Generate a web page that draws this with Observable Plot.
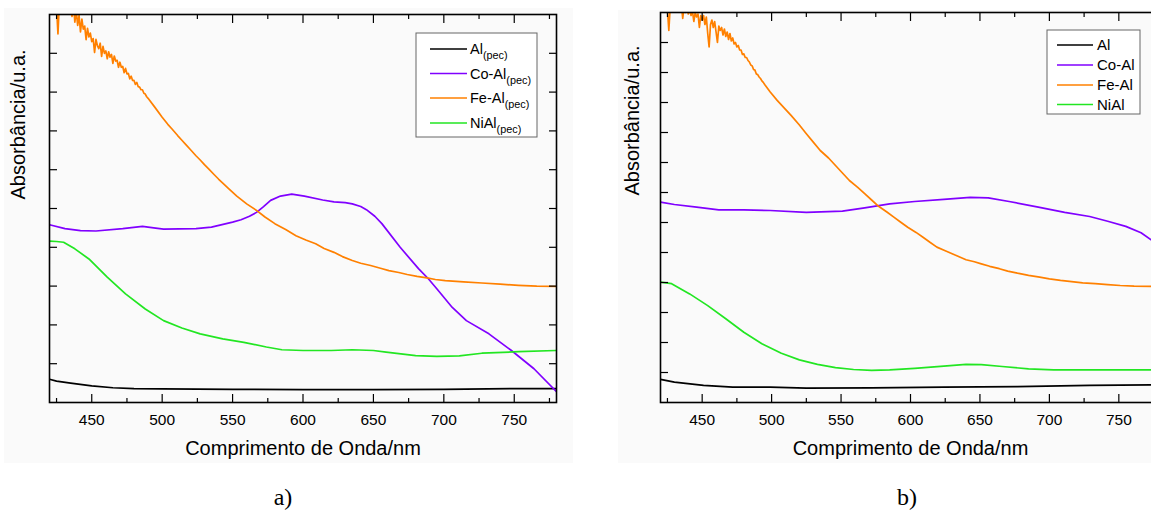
<!DOCTYPE html>
<html>
<head>
<meta charset="utf-8">
<script src="https://cdn.jsdelivr.net/npm/d3@7"></script>
<script src="https://cdn.jsdelivr.net/npm/@observablehq/plot@0.6"></script>
<style>
  body { margin: 0; width: 1151px; height: 513px; overflow: hidden; background: #fff; position: relative;
         font-family: "Liberation Sans", Arial, sans-serif; }
  .panel { position: absolute; top: 0; height: 470px; overflow: hidden; }
  .panel > svg { max-width: none !important; }
  .shade { position: absolute; background: #fafafa; }
  .tag { position: absolute; top: 485px; font: 24px "Liberation Serif", "Times New Roman", serif;
         line-height: 24px; transform: translateX(-50%); color: #000; }
  svg.legend { position: absolute; left: 0; top: 0; overflow: visible; }
</style>
</head>
<body>
<div class="shade" style="left:4px;top:8px;width:569px;height:455px"></div>
<div class="shade" style="left:618px;top:10px;width:533px;height:453px"></div>
<div id="panelA" class="panel" style="left:0;width:575px"></div>
<div id="panelB" class="panel" style="left:580px;width:571px"></div>
<div class="tag" style="left:283px">a)</div>
<div class="tag" style="left:907px">b)</div>
<script>
// UV-Vis absorption spectra of the LDH samples (wavelength in nm, absorbance in a.u.)
const seriesNames = ["Al", "Co-Al", "Fe-Al", "NiAl"];
const seriesColors = ["#000000", "#8000ff", "#ff8000", "#22e622"];
const xMajorTicks = [450, 500, 550, 600, 650, 700, 750];
const xMinorTicks = [425, 475, 525, 575, 625, 675, 725, 775];
const yTicksA = [1, 2, 3, 4, 5, 6, 7, 8, 9];
const yTicksB = [1, 2, 3, 4, 5, 6, 7, 8, 9, 10, 11, 12];
const xTitle = "Comprimento de Onda/nm";
const yTitle = "Absorbância/u.a.";

// (a) pellet samples
const aAl = [[420,0.60],[425,0.55],[435,0.50],[450,0.43],[465,0.38],[480,0.36],[500,0.35],[550,0.34],
  [600,0.33],[650,0.33],[700,0.34],[750,0.36],[780,0.36]];
const aCoAl = [[420,4.58],[431,4.48],[442,4.43],[453,4.42],[472,4.48],[486,4.54],[494,4.50],[501,4.47],
  [524,4.48],[535,4.52],[550,4.65],[556,4.71],[562,4.80],[567,4.90],[572,5.05],[577,5.21],[584,5.32],
  [592,5.37],[601,5.32],[614,5.22],[622,5.17],[630,5.15],[635,5.12],[641,5.05],[645,4.97],[651,4.80],
  [656,4.61],[669,4.00],[682,3.45],[689,3.19],[695,2.93],[706,2.45],[716,2.11],[732,1.77],[748,1.34],
  [764,0.87],[780,0.28]];
const aFeAl = [[420,10.6],[421,10.5],[422,10.7],[423,10.4],[424,10.6],[425,10.2],[426,9.5],[427,10.3],
  [428,10.6],[429,10.5],[430,10.7],[431,10.4],[432,10.6],[433,10.3],[434,10.5],[435,10.1],[436,9.95],
  [437,10.3],[438,9.8],[439,10.1],[440,9.72],[441,9.98],[442,9.55],[443,9.88],[444,9.62],[445,9.7],
  [446,9.35],[447,9.64],[448,9.42],[449,9.52],[450,9.3],[451,9.38],[452,9.02],[453,9.36],[454,9.2],
  [455,9.12],[456,9.26],[457,8.92],[458,9.18],[459,9.0],[460,9.06],[461,8.86],[462,9.04],[463,8.9],
  [464,8.97],[465,8.74],[466,8.93],[467,8.8],[468,8.82],[469,8.64],[470,8.77],[471,8.64],[472,8.66],
  [473,8.5],[474,8.61],[475,8.47],[476,8.48],[477,8.34],[478,8.41],[479,8.3],[480,8.3],[481,8.2],
  [482,8.25],[483,8.14],[484,8.13],[485,8.06],[486,8.06],[487,7.97],[488,7.95],[489,7.88],[490,7.84],
  [495,7.60],[500,7.35],[504,7.17],[507,7.05],[511,6.88],[514,6.76],[517,6.64],[520,6.52],[524,6.36],
  [527,6.25],[530,6.13],[533,6.02],[537,5.87],[540,5.76],[547,5.52],
  [553,5.32],[560,5.12],[567,4.95],[573,4.78],[580,4.61],[588,4.45],[595,4.30],[602,4.19],[609,4.09],
  [615,3.97],[622,3.87],[628,3.76],[635,3.66],[641,3.59],[648,3.53],[655,3.46],[661,3.40],[668,3.35],
  [674,3.30],[681,3.25],[688,3.21],[694,3.17],[701,3.14],[714,3.11],[727,3.08],[740,3.05],[753,3.02],
  [766,3.00],[780,2.99]];
const aNiAl = [[420,4.16],[425,4.15],[430,4.13],[438,3.96],[448,3.70],[461,3.23],[474,2.80],[488,2.41],
  [501,2.11],[514,1.92],[527,1.77],[543,1.64],[558,1.55],[574,1.43],[585,1.36],[600,1.34],[620,1.34],
  [635,1.36],[650,1.34],[659,1.30],[680,1.21],[695,1.19],[711,1.20],[727,1.27],[753,1.31],[780,1.34]];

// (b) powder samples
const bAl = [[420,0.77],[430,0.68],[451,0.57],[472,0.51],[499,0.51],[525,0.48],[572,0.49],[624,0.51],
  [677,0.53],[729,0.57],[774,0.59]];
const bCoAl = [[420,6.68],[430,6.60],[446,6.51],[462,6.42],[480,6.42],[499,6.40],[525,6.34],[551,6.38],
  [567,6.49],[585,6.62],[603,6.70],[624,6.77],[643,6.84],[656,6.82],[671,6.70],[692,6.51],[711,6.34],
  [729,6.20],[742,6.04],[755,5.87],[766,5.66],[774,5.40]];
const bFeAl = [[420,13.4],[421,13.3],[422,13.5],[423,13.2],[424,13.4],[425,13.1],[426,12.4],[427,13.2],
  [428,13.4],[429,13.3],[430,13.5],[431,13.2],[432,13.4],[433,13.3],[434,13.1],[435,13.3],[436,12.8],
  [437,13.2],[438,13.0],[439,13.2],[440,12.95],[441,13.1],[442,12.9],[443,13.05],[444,12.7],[445,13.0],
  [446,12.85],[447,12.95],[448,12.5],[449,12.9],[450,12.75],[451,12.9],[452,12.6],[453,12.85],[454,12.3],
  [455,11.85],[456,12.6],[457,12.75],[458,12.5],[459,12.7],[460,12.35],[461,12.0],[462,12.55],[463,12.4],
  [464,12.5],[465,12.25],[466,12.45],[467,12.2],[468,12.35],[469,12.1],[470,12.3],[471,12.05],[472,12.15],
  [473,11.95],[474,12.0],[475,11.85],[476,11.9],[477,11.75],[478,11.75],[479,11.6],[480,11.62],[481,11.5],
  [482,11.5],[483,11.4],[484,11.35],[485,11.25],[486,11.22],[487,11.1],[488,11.08],[489,10.95],[490,10.93],
  [491,10.85],[492,10.8],[493,10.72],[494,10.67],[495,10.6],[499,10.35],[504,10.07],[509,9.82],[514,9.57],
  [520,9.25],[525,8.96],[530,8.68],[535,8.40],[541,8.15],
  [546,7.90],[551,7.65],[556,7.40],[562,7.17],[567,6.96],[572,6.75],[577,6.54],[583,6.35],[588,6.18],
  [593,6.01],[598,5.84],[604,5.67],[609,5.51],[614,5.34],[619,5.18],[625,5.06],[630,4.96],
  [635,4.86],[640,4.76],[646,4.69],[651,4.62],[657,4.54],[664,4.46],[670,4.38],[677,4.31],[685,4.24],
  [693,4.18],[700,4.12],[708,4.07],[716,4.03],[724,3.99],[733,3.96],[742,3.93],[751,3.90],[761,3.88],
  [774,3.87]];
const bNiAl = [[420,4.01],[428,3.96],[441,3.62],[454,3.23],[467,2.79],[480,2.34],[493,1.96],[507,1.64],
  [520,1.42],[533,1.27],[546,1.16],[559,1.10],[572,1.07],[585,1.09],[603,1.14],[624,1.21],[640,1.27],
  [651,1.26],[666,1.20],[685,1.12],[703,1.09],[729,1.09],[774,1.09]];

const FONT = '"Liberation Sans", Arial, Helvetica, sans-serif';

function spectrumPlot({series, yMax, yTicks, width, height, margin, titleDx, titleDy}) {
  const rows = series.flatMap((pts, i) => pts.map(([nm, abs]) => ({name: seriesNames[i], nm, abs})));
  return Plot.plot({
    width, height,
    marginLeft: margin[0], marginRight: margin[1], marginTop: margin[2], marginBottom: margin[3],
    style: {fontFamily: FONT, color: "#000", background: "transparent", overflow: "visible", maxWidth: "none"},
    x: {domain: [420, 780], axis: null, label: null},
    y: {domain: [0, yMax], axis: null, label: null},
    color: {domain: seriesNames, range: seriesColors},
    marks: [
      Plot.line(rows, {x: "nm", y: "abs", z: "name", stroke: "name", strokeWidth: 1.7, clip: true}),
      // inward ticks on all four sides
      Plot.axisX(xMajorTicks, {anchor: "bottom", tickSize: 8, dy: -8, fill: "none", strokeWidth: 1.2, label: null}),
      Plot.axisX(xMinorTicks, {anchor: "bottom", tickSize: 4, dy: -4, fill: "none", strokeWidth: 1.2, label: null}),
      Plot.axisX(xMajorTicks, {anchor: "top", tickSize: 8, dy: 8, fill: "none", strokeWidth: 1.2, label: null}),
      Plot.axisX(xMinorTicks, {anchor: "top", tickSize: 4, dy: 4, fill: "none", strokeWidth: 1.2, label: null}),
      Plot.axisY(yTicks, {anchor: "left", tickSize: 8, dx: 8, fill: "none", strokeWidth: 1.2, label: null}),
      Plot.axisY(yTicks, {anchor: "right", tickSize: 8, dx: -8, fill: "none", strokeWidth: 1.2, label: null}),
      Plot.axisX(xMajorTicks, {anchor: "bottom", tickSize: 0, tickPadding: 11, fontSize: 15.5, label: null}),
      Plot.frame({stroke: "#000", strokeWidth: 1.6}),
      Plot.text([xTitle], {text: d => d, frameAnchor: "bottom", dy: 46, fontSize: 20, lineAnchor: "middle"}),
      Plot.text([yTitle], {text: d => d, frameAnchor: "left", rotate: -90, dx: titleDx, dy: titleDy,
                           fontSize: 20, lineAnchor: "middle"})
    ]
  });
}

function legend(container, {box, lineX, textX, rowsY, fontSize, sub}) {
  const svg = d3.select(container).append("svg").attr("class", "legend")
    .attr("width", 600).attr("height", 200);
  svg.append("rect").attr("x", box[0]).attr("y", box[1]).attr("width", box[2]).attr("height", box[3])
    .attr("fill", "#fff").attr("stroke", "#666").attr("stroke-width", 1);
  seriesNames.forEach((name, i) => {
    svg.append("line").attr("x1", lineX[0]).attr("x2", lineX[1]).attr("y1", rowsY[i]).attr("y2", rowsY[i])
      .attr("stroke", seriesColors[i]).attr("stroke-width", 1.7);
    const t = svg.append("text").attr("x", textX).attr("y", rowsY[i] + fontSize * 0.36)
      .attr("font-family", FONT).attr("font-size", fontSize).attr("fill", "#000").text(name);
    if (sub) t.append("tspan").attr("font-size", fontSize * 0.75).attr("dy", 5).text(sub);
  });
}

const pa = document.getElementById("panelA");
const svgA = spectrumPlot({
  series: [aAl, aCoAl, aFeAl, aNiAl], yMax: 10, yTicks: yTicksA,
  width: 575, height: 470, margin: [49, 19, 14, 68], titleDx: -31, titleDy: -9
});
svgA.style.maxWidth = "none";
pa.append(svgA);
legend(pa, {box: [416, 33, 121, 104], lineX: [430, 467], textX: 470, rowsY: [49, 73.5, 98, 123],
            fontSize: 14.5, sub: "(pec)"});

const pb = document.getElementById("panelB");
const svgB = spectrumPlot({
  series: [bAl, bCoAl, bFeAl, bNiAl], yMax: 13, yTicks: yTicksB,
  width: 600, height: 470, margin: [80, 20, 12, 68], titleDx: -28, titleDy: -12
});
svgB.style.maxWidth = "none";
pb.append(svgB);
legend(pb, {box: [467, 30, 93, 84], lineX: [477, 513], textX: 517, rowsY: [45, 65, 85, 104.5],
            fontSize: 15, sub: null});
</script>
</body>
</html>
